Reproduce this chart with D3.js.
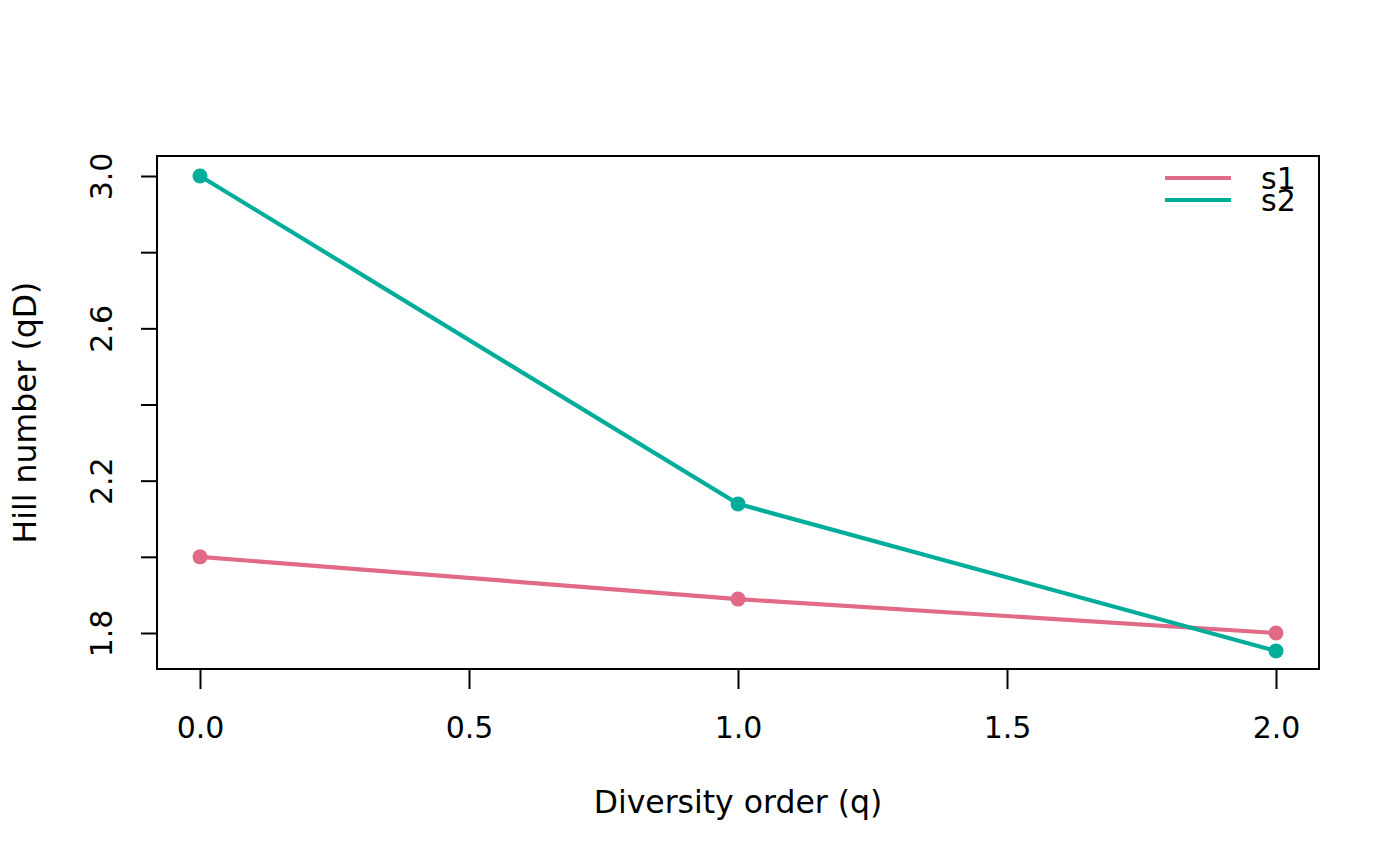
<!DOCTYPE html>
<html>
<head>
<meta charset="utf-8">
<script src="https://cdn.jsdelivr.net/npm/d3@7"></script>
<style>
  body { margin: 0; background: #fff; }
  svg text { font-family: "DejaVu Sans", sans-serif; fill: #000; }
</style>
</head>
<body>
<div id="chart"></div>
<script>
const orders = [0, 1, 2];
const seriesNames = ["s1", "s2"];
const s1Values = [2.0, 1.889, 1.8];
const s2Values = [3.0, 2.139, 1.753];
const seriesColors = ["#E16A86", "#00AD9A"];
const xTicks = [0, 0.5, 1, 1.5, 2];
const yTicks = [1.8, 2.0, 2.2, 2.4, 2.6, 2.8, 3.0];
const yLabelTicks = [1.8, 2.2, 2.6, 3.0];

const width = 1400, height = 866;
const box = { left: 157, right: 1319, top: 156, bottom: 669 };
const fontSize = "30px";

const svg = d3.select("#chart").append("svg")
  .attr("width", width)
  .attr("height", height);

const x = d3.scaleLinear().domain([0, 2]).range([200, 1276]);
const y = d3.scaleLinear().domain([1.8, 3.0]).range([633, 176]);

// plot frame
svg.append("rect")
  .attr("x", box.left).attr("y", box.top)
  .attr("width", box.right - box.left)
  .attr("height", box.bottom - box.top)
  .attr("fill", "none").attr("stroke", "#000").attr("stroke-width", 2);

// x axis
const xAxis = svg.append("g").attr("transform", `translate(0,${box.bottom})`)
  .call(d3.axisBottom(x).tickValues(xTicks).tickSize(20).tickPadding(28)
    .tickFormat(d3.format(".1f")));
xAxis.select(".domain").attr("d", `M${x(0)},0H${x(2)}`).attr("stroke-width", 2);
xAxis.selectAll(".tick line").attr("stroke-width", 2);
xAxis.selectAll("text").style("font-size", fontSize).attr("dy", "0.71em");

// y axis
const yAxis = svg.append("g").attr("transform", `translate(${box.left},0)`)
  .call(d3.axisLeft(y).tickValues(yTicks).tickSize(16)
    .tickFormat(d => yLabelTicks.some(v => Math.abs(v - d) < 1e-9) ? d3.format(".1f")(d) : ""));
yAxis.select(".domain").attr("d", `M0,${y(1.8)}V${y(3.0)}`).attr("stroke-width", 2);
yAxis.selectAll(".tick line").attr("stroke-width", 2);
yAxis.selectAll("text")
  .style("font-size", fontSize)
  .attr("x", null).attr("dy", null)
  .attr("text-anchor", "middle")
  .attr("transform", "translate(-45,0) rotate(-90)");

// axis titles
svg.append("text")
  .attr("x", (box.left + box.right) / 2).attr("y", 813)
  .attr("text-anchor", "middle").style("font-size", "31.5px")
  .text("Diversity order (q)");
svg.append("text")
  .attr("transform", `translate(36,${(box.top + box.bottom) / 2}) rotate(-90)`)
  .attr("text-anchor", "middle").style("font-size", "31.5px")
  .text("Hill number (qD)");

// series
const series = [
  { name: seriesNames[0], values: s1Values, color: seriesColors[0] },
  { name: seriesNames[1], values: s2Values, color: seriesColors[1] }
];

const line = d3.line().x((d, i) => x(orders[i])).y(d => y(d));

series.forEach(s => {
  svg.append("path")
    .attr("d", line(s.values))
    .attr("fill", "none")
    .attr("stroke", s.color)
    .attr("stroke-width", 4.2);
  svg.append("g").selectAll("circle")
    .data(s.values)
    .enter()
    .append("circle")
    .attr("cx", (d, i) => x(orders[i]))
    .attr("cy", d => y(d))
    .attr("r", 7.5)
    .attr("fill", s.color);
});

// legend (entries overlap slightly, as in R's default)
const legend = svg.append("g");
series.forEach((s, i) => {
  const ly = 178 + i * 22;
  legend.append("line")
    .attr("x1", 1165).attr("x2", 1231)
    .attr("y1", ly).attr("y2", ly)
    .attr("stroke", s.color).attr("stroke-width", 4.2);
  legend.append("text")
    .attr("x", 1261).attr("y", ly + 11)
    .style("font-size", fontSize)
    .text(s.name);
});
</script>
</body>
</html>
